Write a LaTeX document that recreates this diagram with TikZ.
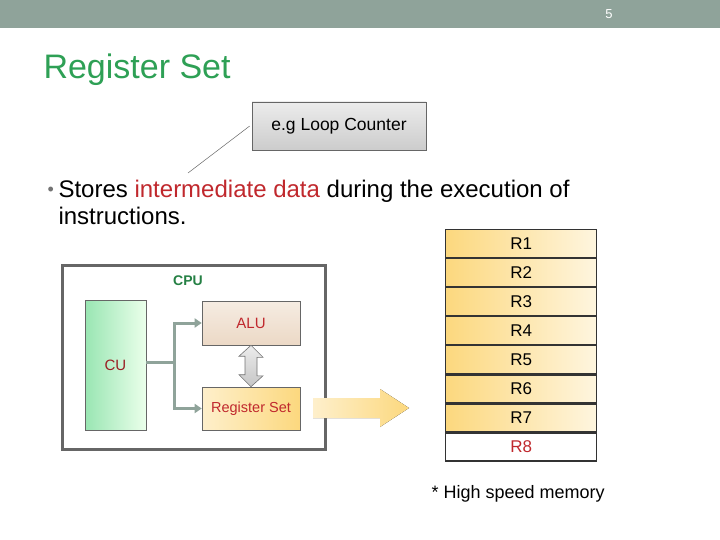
\documentclass[tikz,border=0pt]{standalone}
\usepackage{fontspec}
\setmainfont{Liberation Sans}
\usetikzlibrary{arrows.meta,positioning}
\definecolor{bar}{HTML}{8FA39A}
\definecolor{ttl}{HTML}{2EA055}
\definecolor{gold}{HTML}{FCD87E}
\definecolor{darkred}{HTML}{C0282D}
\begin{document}
\begin{tikzpicture}[x=1pt,y=-1pt,
	box/.style={draw=black!60, line width=0.6pt, inner sep=0pt},
	reg/.style={draw=black!80, line width=1.3pt, minimum width=151pt, minimum height=27.8pt, inner sep=0pt, left color=gold, right color=gold!25, font=\fontsize{17}{17}\selectfont},
	link/.style={draw=bar, line width=3pt, -{Triangle[length=7pt,width=9pt]}}]
	\useasboundingbox (0,0) rectangle (720,540);
	% Header
	\fill [bar] (0,0) rectangle (720,28);
	\node [white, font=\fontsize{13}{13}\selectfont] (pg) at (609,14) {5};
	\node [anchor=west, ttl, font=\fontsize{34}{34}\selectfont] (title) at (40,70) {Register Set};
	% Callout
	\node [box, minimum width=174pt, minimum height=48pt, top color=gray!15, bottom color=gray!40, font=\fontsize{17.5}{17.5}\selectfont] (note) at (339,126) {e.g Loop Counter};
	\coordinate (tip) at (188,173);
	\draw [black!60, line width=0.5pt] (note.west) ++(-2,0) -- (tip);
	% Bullet
	\node [anchor=west, black!55, font=\fontsize{18}{18}\selectfont] (dot) at (44,191) {\textbullet};
	\node [anchor=west, font=\fontsize{24}{24}\selectfont] (line1) at (55,191) {Stores \textcolor{darkred}{intermediate data} during the execution of};
	\node [anchor=west, font=\fontsize{24}{24}\selectfont] (line2) at (55,216) {instructions.};
	% CPU
	\draw [black!60, line width=3pt] (62,265) rectangle (325,449);
	\node [ttl!80!black, font=\bfseries\fontsize{14}{14}\selectfont] (cpu) at (188,281) {CPU};
	\node [box, minimum width=61pt, minimum height=130pt, left color=green!50!teal!40, right color=green!8, font=\fontsize{15}{15}\selectfont] (cu) at (115.5,365) {\textcolor{darkred!80!black}{CU}};
	\node [box, minimum width=98pt, minimum height=44pt, top color=brown!15, bottom color=brown!30, font=\fontsize{15}{15}\selectfont] (alu) at (251,323) {\textcolor{darkred}{ALU}};
	\node [box, minimum width=98pt, minimum height=43pt, left color=gold!40, right color=gold, font=\fontsize{14.5}{14.5}\selectfont] (rs) at (251,408.5) {\textcolor{darkred}{Register Set}};
	\coordinate (fork) at (174,362);
	\draw [bar, line width=3pt] (cu.east |- fork) -- (fork);
	\draw [link] (fork) |- (alu.west);
	\draw [link] (fork) |- (rs.west);
	\draw [draw=black!55, top color=gray!15, bottom color=gray!45, line width=0.6pt]
		(alu.south) -- ++(12,12) -- ++(-6,0) -- ++(0,18.5) -- ++(6,0) -- (rs.north) -- ++(-12,-12) -- ++(6,0) -- ++(0,-18.5) -- ++(-6,0) -- cycle;
	% Big arrow
	\fill [left color=gold!40, right color=gold] (313,398) -- (380,398) -- (380,389) -- (409,408) -- (380,427) -- (380,418) -- (313,418) -- cycle;
	% Registers
	\node [reg, anchor=north west] (r1) at (445,228.7) {R1};
	\foreach \i [remember=\i as \j (initially 1)] in {2,...,7}
		\node [reg, below=0pt of r\j] (r\i) {R\i};
	\node [reg, below=0pt of r7, fill=white, left color=white, right color=white, text=darkred] (r8) {R8};
	\node [anchor=west, font=\fontsize{18}{18}\selectfont] (hs) at (428,494) {* High speed memory};
\end{tikzpicture}
\end{document}
